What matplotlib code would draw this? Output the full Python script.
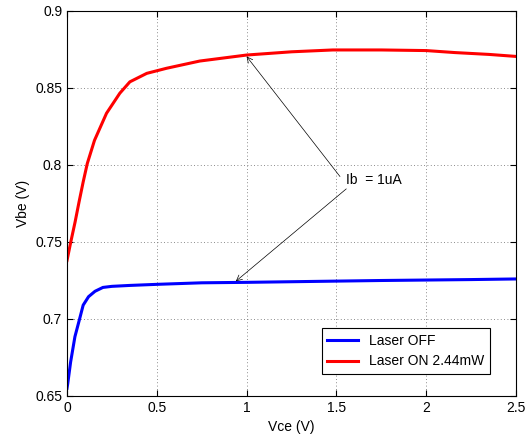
import matplotlib.pyplot as plt

plt.rcParams["font.family"] = ["Liberation Sans", "DejaVu Sans"]

# -----------------------------------
# DATA
# -----------------------------------

vce_off = [0.0, 0.004, 0.02, 0.044, 0.07, 0.09, 0.12, 0.156, 0.2, 0.25, 0.35, 0.5,
           0.75, 1.0, 1.25, 1.5, 1.75, 2.0, 2.25, 2.5]
vbe_off = [0.655, 0.658, 0.672, 0.6885, 0.700, 0.709, 0.7145, 0.718, 0.7205, 0.7212,
           0.7218, 0.7225, 0.7235, 0.7238, 0.7242, 0.7246, 0.725, 0.7253, 0.7256, 0.726]

vce_on = [0.0, 0.02, 0.045, 0.067, 0.09, 0.113, 0.153, 0.22, 0.294, 0.35, 0.444,
          0.554, 0.739, 1.0, 1.25, 1.48, 1.75, 2.0, 2.16, 2.35, 2.5]
vbe_on = [0.738, 0.7495, 0.763, 0.776, 0.789, 0.801, 0.816, 0.8336, 0.8466,
          0.854, 0.8595, 0.8628, 0.8675, 0.8714, 0.8735, 0.8747, 0.8747, 0.8743,
          0.873, 0.8718, 0.8705]

# -----------------------------------
# PLOT
# -----------------------------------

fig = plt.figure(figsize=(5.26, 4.38), dpi=100)
ax = fig.add_axes([0.1274, 0.0959, 0.8536, 0.8790])

ax.plot(vce_off, vbe_off, color="#0000ff", lw=2.2, label="Laser OFF")
ax.plot(vce_on, vbe_on, color="#ff0000", lw=2.2, label="Laser ON 2.44mW")

ax.set_xlim(0, 2.5)
ax.set_ylim(0.65, 0.9)
ax.set_xticks([0, 0.5, 1, 1.5, 2, 2.5])
ax.set_xticklabels(["0", "0.5", "1", "1.5", "2", "2.5"])
ax.set_yticks([0.65, 0.7, 0.75, 0.8, 0.85, 0.9])
ax.set_yticklabels(["0.65", "0.7", "0.75", "0.8", "0.85", "0.9"])

ax.grid(True, linestyle=(0, (1, 3)), color="#666666", lw=0.6)
ax.tick_params(direction="in", top=True, right=True, labelsize=10, length=4)
for s in ax.spines.values():
    s.set_linewidth(0.8)

ax.set_xlabel("Vce (V)", fontsize=10)
ax.set_ylabel("Vbe (V)", fontsize=10)

# annotation
ax.text(1.555, 0.790, "Ib  = 1uA", fontsize=10, ha="left", va="center")
arrow = dict(arrowstyle="->", color="black", lw=0.5, shrinkA=0, shrinkB=0)
ax.annotate("", xy=(1.0, 0.8705), xytext=(1.52, 0.7925), arrowprops=arrow)
ax.annotate("", xy=(0.94, 0.7245), xytext=(1.555, 0.7845), arrowprops=arrow)

leg = ax.legend(loc="lower right", bbox_to_anchor=(0.942, 0.057), borderaxespad=0,
                fontsize=10, fancybox=False, edgecolor="black", framealpha=1,
                handlelength=2.2)
leg.get_frame().set_linewidth(0.8)

plt.savefig("out.png", dpi=100)
